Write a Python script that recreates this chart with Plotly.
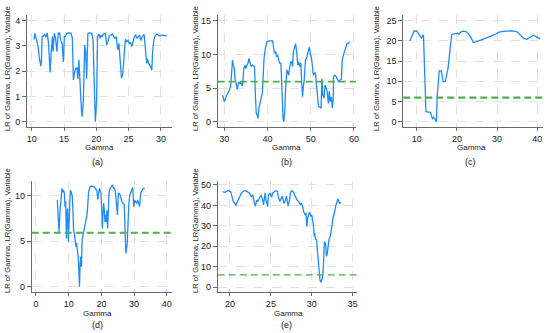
import plotly.graph_objects as go

# ---------------- data ----------------
gamma_a = [10.26, 10.4, 10.5, 10.8, 11.0, 11.2, 11.4, 11.5, 11.6, 11.8,
           12.0, 12.2, 12.4, 12.6, 12.85, 13.0, 13.2, 13.3, 13.5, 13.7,
           13.9, 14.1, 14.3, 14.5, 14.7, 14.9, 15.05, 15.2, 15.45, 15.8,
           16.1, 16.3, 16.45, 16.6, 16.8, 17.0, 17.15, 17.3, 17.5, 17.7,
           17.8, 18.0, 18.2, 18.35, 18.5, 18.7, 19.0, 19.3, 19.5, 19.7,
           19.85, 20.05, 20.2, 20.4, 20.6, 20.7, 20.9, 21.1, 21.4, 21.6,
           21.8, 22.0, 22.3, 22.5, 22.7, 22.9, 23.1, 23.3, 23.5, 23.7,
           23.9, 24.1, 24.3, 24.5, 24.7, 24.9, 25.1, 25.3, 25.5, 25.7,
           25.9, 26.1, 26.3, 26.5, 26.7, 26.9, 27.1, 27.4, 27.6, 27.8,
           27.9, 28.1, 28.4, 28.6, 28.7, 28.9, 29.1, 29.4, 29.6, 29.8,
           30.2, 30.6, 30.9]
lr_a = [3.26, 3.3, 3.5, 3.1, 2.97, 2.5, 2.2, 2.35, 3.37, 3.4,
        3.45, 3.35, 3.52, 3.1, 1.95, 2.7, 3.37, 2.77, 3.5, 3.3,
        2.77, 3.5, 3.52, 3.23, 3.1, 2.37, 3.37, 3.37, 3.5, 3.52,
        3.5, 3.3, 1.65, 1.9, 2.1, 2.13, 1.7, 2.45, 1.05, 0.46,
        0.2, 0.86, 3.04, 2.77, 1.7, 3.5, 3.52, 3.5, 3.23, 1.25,
        0.0, 0.86, 3.37, 3.47, 3.3, 3.43, 3.37, 3.47, 3.5, 3.04,
        3.17, 3.4, 3.43, 3.47, 3.37, 3.3, 3.37, 2.84, 3.1, 2.31,
        1.72, 1.89, 2.77, 3.26, 3.17, 3.23, 3.1, 3.13, 2.97, 3.17,
        3.37, 3.43, 3.3, 3.37, 3.43, 3.21, 3.37, 3.46, 2.84, 2.31,
        2.5, 2.31, 2.18, 2.05, 2.7, 3.23, 3.4, 3.47, 3.43, 3.4,
        3.43, 3.4, 3.4]

gamma_b = [29.6, 30.0, 30.4, 30.8, 31.2, 31.5, 31.7, 31.9, 32.1, 32.3,
           32.5, 32.7, 33.0, 33.3, 33.6, 33.8, 34.1, 34.3, 34.5, 34.8,
           35.0, 35.2, 35.5, 35.7, 35.9, 36.2, 36.5, 36.8, 37.0, 37.2,
           37.4, 37.6, 37.8, 38.0, 38.3, 38.6, 38.8, 39.0, 39.2, 39.5,
           39.7, 39.9, 40.5, 41.2, 41.4, 41.6, 41.9, 42.1, 42.3, 42.6,
           42.8, 43.1, 43.3, 43.6, 43.8, 44.0, 44.2, 44.5, 44.7, 44.9,
           45.2, 45.4, 45.6, 45.8, 46.0, 46.3, 46.5, 46.8, 47.0, 47.2,
           47.5, 47.7, 47.9, 48.1, 48.3, 48.5, 48.8, 49.0, 49.2, 49.5,
           49.7, 49.9, 50.2, 50.4, 50.6, 50.9, 51.1, 51.3, 51.6, 51.8,
           52.1, 52.4, 52.6, 52.8, 53.1, 53.3, 53.6, 53.8, 54.1, 54.3,
           54.5, 54.8, 55.0, 55.2, 55.3, 55.6, 55.9, 56.2, 56.5, 56.8,
           57.1, 57.3, 57.5, 57.8, 58.1, 58.4, 58.7, 59.0]
lr_b = [3.96, 2.97, 3.7, 4.2, 4.7, 5.45, 7.4, 9.16, 8.4, 7.9,
        6.4, 5.45, 4.8, 5.9, 5.7, 5.9, 5.3, 5.9, 7.9, 8.4,
        7.9, 8.4, 8.7, 9.4, 8.7, 8.2, 8.4, 8.2, 8.2, 3.7,
        1.24, 1.0, 0.5, 2.0, 3.2, 3.7, 4.2, 8.7, 9.4, 10.9,
        11.6, 11.9, 12.0, 12.0, 11.1, 10.2, 10.4, 9.65, 9.9, 8.8,
        8.7, 8.7, 4.0, 0.5, 0.0, 1.7, 4.95, 7.7, 7.4, 6.9,
        8.4, 8.9, 8.9, 8.2, 10.4, 11.1, 11.6, 10.1, 8.4, 8.9,
        8.2, 8.7, 5.7, 3.7, 5.2, 6.2, 9.2, 9.4, 9.9, 10.9,
        11.1, 10.1, 9.4, 8.2, 6.9, 7.2, 7.3, 5.7, 3.2, 2.3,
        2.2, 2.0, 6.4, 4.0, 3.5, 5.45, 4.95, 4.5, 2.7, 4.5,
        3.0, 3.7, 2.0, 3.2, 6.7, 6.9, 6.7, 6.4, 5.9, 6.2,
        6.3, 9.2, 9.9, 10.4, 10.9, 11.6, 11.6, 11.9]

gamma_c = [8.34, 8.9, 9.3, 10.0, 10.4, 10.8, 11.2, 11.5, 11.7, 12.3,
           12.7, 13.4, 13.9, 14.2, 14.6, 14.9, 15.1, 15.6, 16.1, 16.6,
           17.1, 17.8, 18.7, 19.5, 20.1, 20.5, 20.9, 21.6, 22.3, 22.8,
           23.4, 24.1, 24.9, 25.9, 27.0, 28.2, 29.5, 30.3, 31.1, 32.4,
           33.6, 34.9, 35.7, 36.6, 37.4, 38.2, 39.0, 39.8, 40.7]
lr_c = [20.0, 21.2, 22.4, 22.5, 21.8, 21.0, 20.6, 21.4, 21.2, 2.5,
        2.4, 2.3, 0.8, 1.1, 0.6, 0.0, 6.2, 12.6, 12.6, 9.9,
        9.9, 13.2, 21.6, 21.8, 21.9, 21.6, 22.2, 22.4, 22.3, 21.8,
        21.0, 19.6, 19.8, 20.2, 20.6, 21.0, 21.6, 22.1, 22.3, 22.4,
        22.5, 22.3, 21.6, 20.6, 20.4, 21.0, 21.4, 21.0, 20.5]

gamma_d = [6.53, 6.84, 7.04, 7.35, 7.65, 7.96, 8.16, 8.37, 8.67, 8.88,
           9.08, 9.3, 9.5, 9.7, 9.9, 10.1, 10.3, 10.5, 10.8, 11.1,
           11.3, 11.5, 11.8, 12.0, 12.2, 12.4, 12.6, 12.9, 13.1, 13.3,
           13.5, 13.7, 13.9, 14.1, 14.4, 14.7, 15.0, 15.3, 15.6, 15.8,
           16.1, 16.5, 17.0, 17.65, 18.3, 18.6, 18.9, 19.1, 19.4, 19.7,
           19.9, 20.1, 20.3, 20.5, 20.7, 20.9, 21.1, 21.3, 21.5, 21.7,
           21.9, 22.1, 22.3, 22.7, 23.1, 23.4, 23.7, 24.0, 24.3, 24.6,
           24.9, 25.2, 25.5, 25.9, 26.3, 26.7, 27.0, 27.3, 27.5, 27.9,
           28.1, 28.4, 28.7, 29.0, 29.3, 29.6, 29.9, 30.2, 30.5, 30.8,
           31.1, 31.4, 31.7, 32.0, 32.4, 32.9, 33.3]
lr_d = [9.52, 6.2, 6.0, 8.4, 10.25, 10.8, 10.4, 10.6, 10.3, 8.8,
        9.4, 5.3, 8.1, 8.6, 4.95, 6.8, 9.5, 10.6, 10.4, 9.9,
        8.4, 6.2, 5.7, 5.1, 4.4, 4.8, 4.2, 3.3, 1.8, 0.0,
        2.6, 3.3, 2.2, 5.1, 5.7, 6.2, 6.8, 7.5, 7.9, 8.8,
        10.4, 11.0, 11.06, 11.0, 10.8, 10.6, 9.6, 10.1, 10.8, 10.5,
        10.25, 8.4, 6.4, 8.1, 9.2, 8.4, 7.1, 7.9, 7.1, 8.4,
        6.4, 7.9, 10.25, 10.8, 11.0, 11.2, 10.8, 10.8, 10.4, 8.4,
        7.9, 10.25, 10.25, 9.9, 9.3, 9.15, 9.0, 5.5, 3.66, 4.76,
        7.7, 9.15, 10.1, 10.4, 10.8, 10.9, 8.8, 9.5, 9.3, 9.2,
        9.5, 9.2, 8.8, 10.25, 10.6, 10.8, 10.8]

gamma_e = [19.1, 19.4, 19.7, 19.9, 20.1, 20.2, 20.4, 20.6, 20.7, 20.9,
           21.1, 21.2, 21.4, 21.6, 21.8, 22.0, 22.2, 22.4, 22.6, 22.8,
           22.9, 23.1, 23.3, 23.4, 23.6, 23.8, 24.0, 24.1, 24.3, 24.4,
           24.6, 24.7, 24.9, 25.1, 25.2, 25.4, 25.6, 25.8, 25.9, 26.1,
           26.3, 26.4, 26.6, 26.8, 26.9, 27.1, 27.3, 27.4, 27.6, 27.8,
           27.9, 28.1, 28.2, 28.4, 28.6, 28.7, 28.9, 29.0, 29.2, 29.3,
           29.4, 29.5, 29.7, 29.8, 29.9, 30.0, 30.2, 30.3, 30.35, 30.45,
           30.6, 30.7, 30.8, 30.9, 31.0, 31.1, 31.3, 31.4, 31.45, 31.55,
           31.7, 31.8, 31.9, 32.0, 32.1, 32.3, 32.4, 32.5, 32.6, 32.8,
           32.9, 33.1, 33.2, 33.4, 33.6]
lr_e = [46.7, 46.4, 47.1, 47.2, 46.6, 45.1, 41.9, 41.0, 39.9, 41.9,
        43.6, 44.8, 46.0, 46.8, 47.2, 47.0, 46.6, 46.0, 44.3, 45.1,
        42.7, 39.7, 42.7, 41.9, 43.5, 45.1, 42.7, 40.2, 46.0, 42.7,
        39.4, 45.1, 46.0, 44.0, 46.0, 46.8, 47.2, 46.8, 44.3, 41.9,
        43.5, 44.6, 41.0, 42.7, 44.6, 39.7, 43.1, 46.4, 47.2, 46.3,
        45.1, 43.1, 42.7, 41.9, 40.2, 41.0, 39.4, 37.0, 35.3, 36.2,
        29.6, 33.7, 36.5, 36.2, 34.5, 35.3, 30.5, 24.8, 26.4, 23.4,
        23.1, 17.4, 11.7, 6.0, 3.6, 2.3, 4.4, 8.5, 16.6, 22.3,
        20.7, 15.0, 16.6, 20.7, 23.1, 25.6, 28.8, 32.1, 33.7, 37.0,
        39.4, 41.9, 43.1, 41.0, 41.4]

critical_value = 5.94
panel_labels = ["(a)", "(b)", "(c)", "(d)", "(e)"]
x_title = "Gamma"
y_title = "LR of Gamma, LR(Gamma), Variable"
x_ticks = [[10, 15, 20, 25, 30], [30, 40, 50, 60], [10, 20, 30, 40],
           [0, 10, 20, 30, 40], [20, 25, 30, 35]]
y_ticks = [[0, 1, 2, 3, 4], [0, 5, 10, 15], [0, 5, 10, 15, 20, 25],
           [0, 5, 10], [0, 10, 20, 30, 40, 50]]
show_crit = [False, True, True, True, True]

# ---------------- layout / style ----------------
W, H = 550, 333
FONT = "Liberation Sans, Arial, sans-serif"
BLUE = "#1e8cff"
GREEN = "#4fae4f"
AXIS = "#6a6a6a"
GRID = "#e2e2e2"

# pixel boxes of plot areas: (left, right, top, bottom)
boxes = [(27, 172, 15, 126.7), (217.7, 356, 15, 126.7), (403.3, 543, 15, 126.7),
         (31.7, 171.7, 180.7, 291.7), (217.7, 357, 180.7, 291.7)]
x_ranges = [[9.27, 31.72], [28.47, 60.49], [6.67, 41.42], [-1.31, 41.5], [18.5, 35.53]]
y_ranges = [[-0.198, 4.226], [-0.74, 15.85], [-1.24, 26.41], [-0.55, 11.65], [-2.3, 52.1]]
ytitle_x = [7, 195, 376, 7, 195]
ytitle_y = [69, 69, 69, 231, 231]
xtitle_pos = [(99, 147.5), (286.7, 147.5), (471.7, 147.5), (97.5, 313.3), (288, 313.3)]
cap_pos = [(97, 162), (286, 162), (470, 162), (97, 324.5), (286, 324.5)]
crit_width = [0, 1.8, 2.2, 2.0, 1.4]

series = [(gamma_a, lr_a), (gamma_b, lr_b), (gamma_c, lr_c), (gamma_d, lr_d), (gamma_e, lr_e)]

fig = go.Figure()
layout = dict(width=W, height=H, margin=dict(l=0, r=0, t=0, b=0),
              paper_bgcolor="white", plot_bgcolor="white", showlegend=False,
              font=dict(family=FONT, color="#222"))
annotations = []
shapes = []
for i, ((gx, gy), (l, r, t, b)) in enumerate(zip(series, boxes)):
    n = "" if i == 0 else str(i + 1)
    fig.add_trace(go.Scatter(x=gx, y=gy, mode="lines", xaxis="x" + n, yaxis="y" + n,
                             line=dict(color=BLUE, width=1.3), hoverinfo="skip"))
    common = dict(showline=True, linecolor=AXIS, linewidth=1, ticks="outside",
                  tickcolor=AXIS, tickwidth=1, showgrid=True, gridcolor=GRID, gridwidth=1,
                  griddash="dash", zeroline=False, automargin=False,
                  tickfont=dict(size=9, color="#222", family=FONT))
    layout["xaxis" + n] = dict(common, domain=[l / W, r / W], anchor="y" + n, ticklen=3,
                               range=x_ranges[i], tickmode="array", tickvals=x_ticks[i])
    layout["yaxis" + n] = dict(common, domain=[1 - b / H, 1 - t / H], anchor="x" + n, ticklen=4,
                               range=y_ranges[i], tickmode="array", tickvals=y_ticks[i])
    if show_crit[i]:
        shapes.append(dict(type="line", xref="x" + n + " domain", x0=0, x1=1,
                           yref="y" + n, y0=critical_value, y1=critical_value,
                           line=dict(color=GREEN, width=crit_width[i], dash="7px,4px")))
    annotations.append(dict(text=y_title, x=ytitle_x[i] / W, y=1 - ytitle_y[i] / H,
                            xref="paper", yref="paper", showarrow=False, textangle=-90,
                            font=dict(size=7.6, color="#222"), xanchor="center", yanchor="middle"))
    annotations.append(dict(text=x_title, x=xtitle_pos[i][0] / W, y=1 - xtitle_pos[i][1] / H,
                            xref="paper", yref="paper", showarrow=False,
                            font=dict(size=8, color="#222"), xanchor="center", yanchor="middle"))
    annotations.append(dict(text=panel_labels[i], x=cap_pos[i][0] / W, y=1 - cap_pos[i][1] / H,
                            xref="paper", yref="paper", showarrow=False,
                            font=dict(size=9, color="#222"), xanchor="center", yanchor="middle"))

layout["annotations"] = annotations
layout["shapes"] = shapes
fig.update_layout(**layout)
fig.write_html("out.html", config={"displayModeBar": False, "staticPlot": True},
               post_script="document.body.style.margin='0px';document.body.style.overflow='hidden';")
